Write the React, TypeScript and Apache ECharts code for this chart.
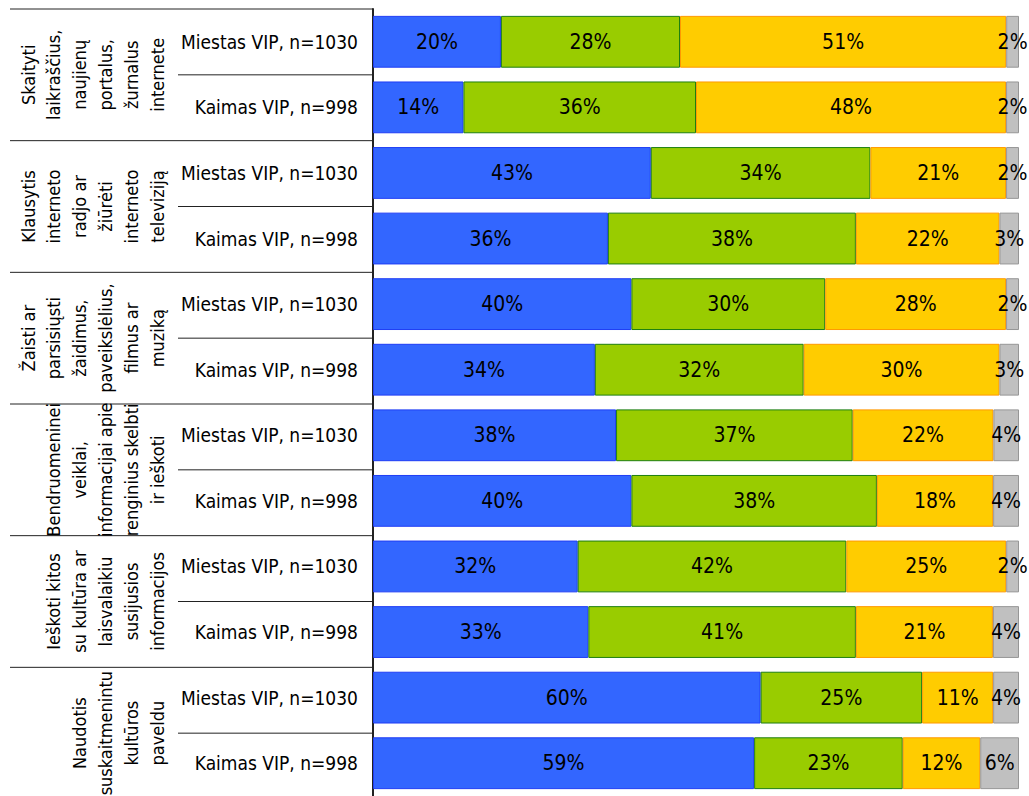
import React, { useEffect, useRef } from "react";
import * as echarts from "echarts";

const groupLabels = [
  "Skaityti\nlaikraščius,\nnaujienų\nportalus,\nžurnalus\ninternete",
  "Klausytis\ninterneto\nradjo ar\nžiūrėti\ninterneto\ntelevizįją",
  "Žaisti ar\nparsisiųsti\nžaidimus,\npaveikslėlius,\nfilmus ar\nmuziką",
  "Bendruomeninei\nveiklai,\ninformacijai apie\nrenginius skelbti\nir ieškoti",
  "Ieškoti kitos\nsu kultūra ar\nlaisvalaikiu\nsusijusios\ninformacijos",
  "Naudotis\nsuskaitmenintu\nkultūros\npaveldu",
].map((s) => s.replace("televizįją", "televiziją"));
const subLabels = ["Miestas VIP, n=1030", "Kaimas VIP, n=998"];

const blueValues = [20, 14, 43, 36, 40, 34, 38, 40, 32, 33, 60, 59];
const greenValues = [28, 36, 34, 38, 30, 32, 37, 38, 42, 41, 25, 23];
const yellowValues = [51, 48, 21, 22, 28, 30, 22, 18, 25, 21, 11, 12];
const grayValues = [2, 2, 2, 3, 2, 3, 4, 4, 2, 4, 4, 6];

const seriesDefs = [
  { name: "Series 1", values: blueValues, color: "#3366FF", border: "#1F3DF5" },
  { name: "Series 2", values: greenValues, color: "#99CC00", border: "#1E7F10" },
  { name: "Series 3", values: yellowValues, color: "#FFCC00", border: "#FF9900" },
  { name: "Series 4", values: grayValues, color: "#C0C0C0", border: "#969696" },
];

const GRID_TOP = 9;
const GRID_H = 790;
const GRID_LEFT = 373;
const GRID_RIGHT = 10;
const FONT = "'DejaVu Sans Condensed', 'DejaVu Sans', sans-serif";

export default function App() {
  const ref = useRef<HTMLDivElement>(null);
  useEffect(() => {
    if (!ref.current) return;
    const chart = echarts.init(ref.current, null, { renderer: "svg" });
    const rowCount = groupLabels.length * subLabels.length;
    const categories: string[] = [];
    groupLabels.forEach((g, gi) => subLabels.forEach((s, si) => categories.push(gi + "|" + si)));
    const totals = categories.map((_, i) => seriesDefs.reduce((a, d) => a + d.values[i], 0));
    const rowH = GRID_H / rowCount;

    const graphics: any[] = [];
    for (let g = 0; g <= groupLabels.length; g++) {
      const y = GRID_TOP + g * 2 * rowH;
      graphics.push({
        type: "line",
        shape: { x1: 10, y1: y, x2: GRID_LEFT, y2: y },
        style: { stroke: "#222", lineWidth: 1 },
        silent: true,
      });
    }
    for (let g = 0; g < groupLabels.length; g++) {
      const y = GRID_TOP + (2 * g + 1) * rowH;
      graphics.push({
        type: "line",
        shape: { x1: 178, y1: y, x2: GRID_LEFT, y2: y },
        style: { stroke: "#222", lineWidth: 1 },
        silent: true,
      });
      graphics.push({
        type: "text",
        x: 170,
        y: y,
        rotation: Math.PI / 2,
        silent: true,
        style: {
          text: groupLabels[g],
          fontSize: 18,
          fontFamily: FONT,
          lineHeight: 25.8,
          textAlign: "center",
          textVerticalAlign: "bottom",
          fill: "#000",
        },
      });
    }

    chart.setOption({
      animation: false,
      grid: { top: GRID_TOP, left: GRID_LEFT, right: GRID_RIGHT, height: GRID_H, containLabel: false },
      xAxis: { type: "value", min: 0, max: 100, show: false },
      yAxis: {
        type: "category",
        inverse: true,
        data: categories,
        axisLine: { show: true, lineStyle: { color: "#222", width: 2 } },
        axisTick: { show: false },
        axisLabel: {
          margin: 15,
          fontSize: 19,
          fontFamily: FONT,
          color: "#000",
          formatter: (_v: string, i: number) => subLabels[i % subLabels.length],
        },
      },
      series: seriesDefs.map((d) => ({
        name: d.name,
        type: "bar",
        stack: "total",
        barCategoryGap: "21%",
        data: d.values.map((v, i) => (v / totals[i]) * 100),
        itemStyle: { color: d.color, borderColor: d.border, borderWidth: 1 },
        label: {
          show: true,
          position: "inside",
          color: "#000",
          fontSize: 21,
          fontFamily: FONT,
          textBorderWidth: 0,
          formatter: (p: any) => d.values[p.dataIndex] + "%",
        },
      })),
      graphic: graphics,
    });
    return () => chart.dispose();
  }, []);
  return (
    <div
      ref={ref}
      style={{ position: "fixed", left: 0, top: 0, width: 1029, height: 796, background: "#fff" }}
    />
  );
}
